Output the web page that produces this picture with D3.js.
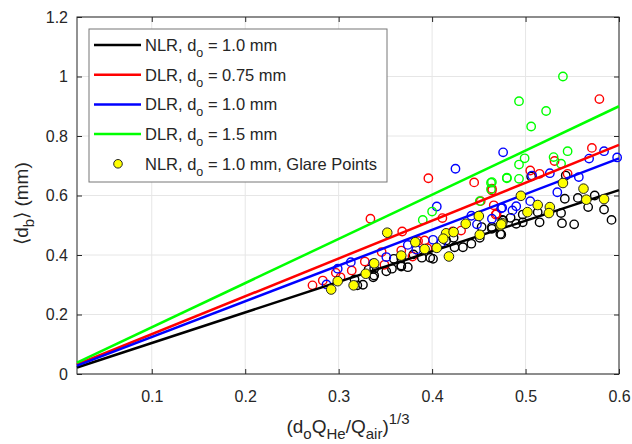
<!DOCTYPE html>
<html>
<head>
<meta charset="utf-8">
<script src="https://cdn.jsdelivr.net/npm/d3@7"></script>
<style>
  body { margin: 0; background: #fff; }
  svg { font-family: "Liberation Sans", Arial, sans-serif; }
</style>
</head>
<body>
<svg id="chart" width="632" height="444"></svg>
<script>
// tick values
const xTicks = [0.1, 0.2, 0.3, 0.4, 0.5, 0.6]
const yTicks = [0, 0.2, 0.4, 0.6, 0.8, 1, 1.2]

// fitted lines, evaluated at the two ends of the x range
const fitX = [0.02, 0.6]
const fitNLR10 = [0.022, 0.618]
const fitDLR075 = [0.032, 0.770]
const fitDLR10 = [0.028, 0.725]
const fitDLR15 = [0.038, 0.900]

const ptsNLR = [
  [0.506, 0.664], [0.543, 0.667], [0.542, 0.589], [0.556, 0.592], [0.574, 0.600],
  [0.567, 0.561], [0.584, 0.553], [0.592, 0.518], [0.538, 0.541], [0.539, 0.507],
  [0.552, 0.503], [0.515, 0.510], [0.513, 0.544], [0.497, 0.536], [0.497, 0.510],
  [0.490, 0.505], [0.484, 0.525], [0.475, 0.518], [0.474, 0.469], [0.464, 0.494],
  [0.415, 0.449], [0.423, 0.458], [0.424, 0.426], [0.433, 0.426], [0.442, 0.438],
  [0.453, 0.494], [0.464, 0.488], [0.473, 0.471], [0.476, 0.516], [0.389, 0.391],
  [0.398, 0.391], [0.401, 0.387], [0.380, 0.402], [0.374, 0.359], [0.367, 0.361],
  [0.451, 0.458], [0.332, 0.351], [0.338, 0.331], [0.317, 0.318], [0.320, 0.298],
  [0.326, 0.300], [0.351, 0.345], [0.357, 0.354], [0.359, 0.387], [0.367, 0.365],
  [0.367, 0.389], [0.337, 0.325], [0.338, 0.354]
]
const ptsGlare = [
  [0.495, 0.599], [0.562, 0.623], [0.584, 0.588], [0.565, 0.586], [0.540, 0.642],
  [0.526, 0.561], [0.525, 0.541], [0.513, 0.568], [0.502, 0.544], [0.475, 0.507],
  [0.473, 0.499], [0.436, 0.505], [0.450, 0.531], [0.451, 0.468], [0.415, 0.473],
  [0.423, 0.477], [0.412, 0.455], [0.382, 0.443], [0.392, 0.420], [0.405, 0.424],
  [0.418, 0.395], [0.474, 0.503], [0.367, 0.398], [0.352, 0.475], [0.299, 0.312],
  [0.292, 0.284], [0.316, 0.298], [0.329, 0.337], [0.338, 0.372]
]
const ptsDLR075 = [
  [0.579, 0.924], [0.571, 0.760], [0.531, 0.716], [0.505, 0.684], [0.515, 0.673],
  [0.545, 0.673], [0.464, 0.623], [0.466, 0.567], [0.468, 0.536], [0.396, 0.658],
  [0.445, 0.644], [0.464, 0.617], [0.452, 0.581], [0.469, 0.539], [0.411, 0.524],
  [0.368, 0.479], [0.431, 0.482], [0.422, 0.479], [0.392, 0.449], [0.385, 0.447],
  [0.395, 0.423], [0.379, 0.395], [0.367, 0.415], [0.334, 0.522], [0.346, 0.410],
  [0.328, 0.378], [0.349, 0.367], [0.314, 0.348], [0.297, 0.340], [0.302, 0.325],
  [0.283, 0.314], [0.272, 0.298]
]
const ptsDLR10 = [
  [0.476, 0.745], [0.584, 0.749], [0.568, 0.724], [0.598, 0.728], [0.526, 0.675],
  [0.557, 0.662], [0.534, 0.611], [0.505, 0.581], [0.490, 0.564], [0.486, 0.550],
  [0.474, 0.557], [0.464, 0.522], [0.507, 0.667], [0.425, 0.690], [0.405, 0.563],
  [0.442, 0.532], [0.448, 0.503], [0.475, 0.559], [0.401, 0.451], [0.374, 0.434],
  [0.410, 0.441], [0.383, 0.418], [0.313, 0.376], [0.299, 0.354], [0.337, 0.372],
  [0.351, 0.393], [0.287, 0.301]
]
const ptsDLR15 = [
  [0.540, 1.000], [0.493, 0.917], [0.522, 0.884], [0.506, 0.832], [0.545, 0.749],
  [0.499, 0.725], [0.493, 0.704], [0.530, 0.729], [0.538, 0.707], [0.480, 0.660],
  [0.493, 0.656], [0.464, 0.645], [0.463, 0.643], [0.463, 0.621], [0.480, 0.658],
  [0.451, 0.581], [0.400, 0.546], [0.390, 0.518]
]

const svg = d3.select('#chart')
const margin = { left: 77, top: 17, right: 13, bottom: 70 }
const w = 632 - margin.left - margin.right
const h = 444 - margin.top - margin.bottom
const axisColor = '#262626'

const x = d3.scaleLinear().domain([0.02, 0.6]).range([0, w])
const y = d3.scaleLinear().domain([0, 1.2]).range([h, 0])

const g = svg.append('g').attr('transform', `translate(${margin.left},${margin.top})`)

// grid
g.append('g').selectAll('line').data(xTicks).join('line')
  .attr('x1', d => x(d)).attr('x2', d => x(d)).attr('y1', 0).attr('y2', h)
  .attr('stroke', '#e6e6e6')
g.append('g').selectAll('line').data(yTicks).join('line')
  .attr('y1', d => y(d)).attr('y2', d => y(d)).attr('x1', 0).attr('x2', w)
  .attr('stroke', '#e6e6e6')

// axes, ticks pointing inwards on all four sides (box on)
const styleAxis = sel => {
  sel.select('.domain').remove()
  sel.selectAll('line').attr('stroke', axisColor)
  sel.selectAll('text').attr('fill', axisColor).style('font-size', '16px')
}
g.append('g').attr('transform', `translate(0,${h})`)
  .call(d3.axisBottom(x).tickValues(xTicks).tickSizeInner(-5).tickSizeOuter(0).tickPadding(17).tickFormat(d3.format('.1f')))
  .call(styleAxis)
g.append('g')
  .call(d3.axisTop(x).tickValues(xTicks).tickSizeInner(-5).tickSizeOuter(0).tickFormat(''))
  .call(styleAxis)
g.append('g')
  .call(d3.axisLeft(y).tickValues(yTicks).tickSizeInner(-5).tickSizeOuter(0).tickPadding(9).tickFormat(d => d3.format('~g')(d)))
  .call(styleAxis)
g.append('g').attr('transform', `translate(${w},0)`)
  .call(d3.axisRight(y).tickValues(yTicks).tickSizeInner(-5).tickSizeOuter(0).tickFormat(''))
  .call(styleAxis)
g.append('rect').attr('width', w).attr('height', h)
  .attr('fill', 'none').attr('stroke', axisColor).attr('stroke-width', 1)

// open circles
const openSets = [
  { pts: ptsNLR, color: '#000000' },
  { pts: ptsDLR075, color: '#ff0000' },
  { pts: ptsDLR10, color: '#0000ff' },
  { pts: ptsDLR15, color: '#00ff00' }
]
openSets.forEach(s => {
  g.append('g').selectAll('circle').data(s.pts).join('circle')
    .attr('cx', d => x(d[0])).attr('cy', d => y(d[1])).attr('r', 4.2)
    .attr('fill', 'none').attr('stroke', s.color).attr('stroke-width', 1.4)
})

// fitted lines
const fits = [
  { vals: fitNLR10, color: '#000000' },
  { vals: fitDLR075, color: '#ff0000' },
  { vals: fitDLR10, color: '#0000ff' },
  { vals: fitDLR15, color: '#00ff00' }
]
const line = d3.line().x(d => x(d[0])).y(d => y(d[1]))
fits.forEach(f => {
  g.append('path').datum(fitX.map((v, i) => [v, f.vals[i]]))
    .attr('d', line).attr('fill', 'none').attr('stroke', f.color).attr('stroke-width', 2.5)
})

// glare points
g.append('g').selectAll('circle').data(ptsGlare).join('circle')
  .attr('cx', d => x(d[0])).attr('cy', d => y(d[1])).attr('r', 4.8)
  .attr('fill', '#ffff00').attr('stroke', '#222').attr('stroke-width', 1)

// legend
const legendItems = [
  { kind: 'line', color: '#000000', txt: ['NLR, d', 'o', ' = 1.0 mm'] },
  { kind: 'line', color: '#ff0000', txt: ['DLR, d', 'o', ' = 0.75 mm'] },
  { kind: 'line', color: '#0000ff', txt: ['DLR, d', 'o', ' = 1.0 mm'] },
  { kind: 'line', color: '#00ff00', txt: ['DLR, d', 'o', ' = 1.5 mm'] },
  { kind: 'dot', color: '#ffff00', txt: ['NLR, d', 'o', ' = 1.0 mm, Glare Points'] }
]
const lg = svg.append('g').attr('transform', 'translate(89,29)')
lg.append('rect').attr('width', 298).attr('height', 153)
  .attr('fill', '#fff').attr('stroke', '#777').attr('stroke-width', 1)
legendItems.forEach((it, i) => {
  const cy = 16 + i * 29.7
  if (it.kind === 'line') {
    lg.append('line').attr('x1', 5).attr('x2', 52).attr('y1', cy).attr('y2', cy)
      .attr('stroke', it.color).attr('stroke-width', 2.5)
  } else {
    lg.append('circle').attr('cx', 29).attr('cy', cy).attr('r', 4.3)
      .attr('fill', it.color).attr('stroke', '#222').attr('stroke-width', 1)
  }
  const t = lg.append('text').attr('x', 56).attr('y', cy + 6).attr('fill', axisColor).style('font-size', '16.5px')
  t.append('tspan').text(it.txt[0])
  t.append('tspan').attr('dy', 6).style('font-size', '12.5px').text(it.txt[1])
  t.append('tspan').attr('dy', -6).text(it.txt[2])
})

// x label
const xl = svg.append('text').attr('x', margin.left + w / 2).attr('y', 433)
  .attr('text-anchor', 'middle').attr('fill', axisColor).style('font-size', '19px')
xl.append('tspan').text('(d')
xl.append('tspan').attr('dy', 6).style('font-size', '15px').text('o')
xl.append('tspan').attr('dy', -6).text('Q')
xl.append('tspan').attr('dy', 6).style('font-size', '15px').text('He')
xl.append('tspan').attr('dy', -6).text('/Q')
xl.append('tspan').attr('dy', 6).style('font-size', '15px').text('air')
xl.append('tspan').attr('dy', -6).text(')')
xl.append('tspan').attr('dy', -9).style('font-size', '15px').text('1/3')

// y label
const yl = svg.append('text')
  .attr('transform', `translate(28,${margin.top + h / 2 + 8}) rotate(-90)`)
  .attr('text-anchor', 'middle').attr('fill', axisColor).style('font-size', '19px')
yl.append('tspan').text('\u27E8d')
yl.append('tspan').attr('dy', 6).style('font-size', '15px').text('b')
yl.append('tspan').attr('dy', -6).text('\u27E9 (mm)')
</script>
</body>
</html>
